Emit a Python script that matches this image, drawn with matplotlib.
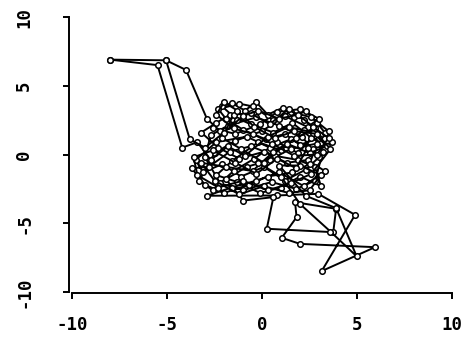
import matplotlib
matplotlib.use("Agg")
import matplotlib.pyplot as plt

# trajectory data (three chains drawn the same way)
chain_a_x = [-8.0, -5.05, -4.0, -2.9, -2.2, -1.3, -2.1, -1.6, -0.9, -0.3, 0.3, 1.1, 1.7, 2.3, 2.9,
             3.3, 3.7, 2.7, 1.5, 0.4, -0.8, -2.4, -3.5, -3.1, -2.1, -1.1, 0.1, 1.2, 2.3, 3.0,
             2.1, 0.9, -0.3, -1.8, -2.7, -3.0, -2.2, -1.0, 0.5, 1.8, 2.8, 3.2, 2.4, 1.2, 0.0,
             -1.4, -2.5, -3.3, -2.6, -1.5, -0.4, 0.8, 1.9, 2.6, 1.6, 0.6, -0.6, -1.7, -2.4, -3.2,
             -2.3, -1.2, 0.1, 1.3, 2.4, 3.3, 2.2, 0.9, -0.3, -1.6, -2.9, 0.77, 2.96, 4.9, 3.14,
             5.95, 2.0, 1.04, 1.82, 1.74, 3.9, 3.75, 0.25, 0.6, -0.98, -1.9, -0.8, 0.4, 1.5, 2.9,
             3.5, 2.6, 1.5, 0.6, -0.5, -1.2, -2.3, -1.9, -1.0, 0.2, 1.2, 2.0, 3.0, 2.5, 1.6,
             0.3, -0.7, -2.0, -3.0, -3.7, -2.8, -1.7, -0.6, 0.7, 1.9, 2.8, 3.1, 2.0, 1.0, -0.1,
             -1.3, -2.4, -1.6, -0.2, 1.0, 2.2, 3.0, 2.0, 0.8, -0.1, -1.4, -2.6]
chain_a_y = [6.9, 6.85, 6.15, 2.6, 1.7, 2.5, 3.5, 3.75, 3.2, 3.8, 2.9, 3.4, 2.7, 3.2, 2.3,
             1.6, 0.9, 0.4, 1.1, 0.5, 1.3, 0.9, -0.4, -1.3, -0.7, -1.6, -0.9, -1.9, -1.1, -0.2,
             1.3, 2.1, 2.7, 2.1, 1.4, -0.2, -2.1, -2.6, -2.0, -2.5, -1.9, 0.2, 2.0, 2.8, 1.7,
             1.0, 0.1, -1.9, -2.6, -1.2, -0.3, 0.9, 0.1, 1.2, 2.3, 1.6, 2.2, 2.9, 2.3, 1.6,
             0.5, -0.3, 0.2, -0.6, -0.4, -1.2, -2.3, -1.3, -1.9, -2.4, -3.0, -2.98, -2.86, -4.39, -8.48,
             -6.74, -6.5, -6.06, -4.56, -3.47, -3.95, -5.65, -5.4, -3.1, -3.35, -1.8, -0.9, -0.4, 0.4, 0.8,
             1.7, 2.7, 3.1, 2.5, 3.5, 3.7, 3.3, 2.6, 1.8, 1.1, 1.5, 0.7, 1.2, -0.7, -1.3,
             -1.6, -2.2, -2.8, -2.2, -1.0, -0.9, 0.2, 0.6, -0.1, -0.4, -0.9, -2.3, -1.6, -2.4, -2.8,
             -2.0, -1.5, -0.5, 0.9, 0.3, 1.8, 2.6, 3.3, 3.1, 2.2, 1.5, 1.9]

chain_b_x = [-8.0, -5.5, -4.2, -3.4, -2.7, -1.8, -0.9, 0.3, 1.4, 2.7, 3.4, 2.5, 1.3, 0.1, -1.1,
             -2.1, -1.5, -0.6, 0.4, 1.4, 2.2, 2.8, 1.8, 0.6, -0.5, -1.9, -3.2, -2.5, -1.2, 0.1,
             1.4, 2.5, 3.1, 2.0, 0.9, 2.3, 3.9, 4.98, 3.6, 2.0, 1.0, -0.2]
chain_b_y = [6.9, 6.5, 0.5, 0.9, -0.4, 0.6, -0.1, 1.3, 2.0, 1.6, 0.6, 0.1, 0.8, -0.6, 0.4,
             1.2, 2.9, 3.0, 2.2, 3.3, 2.5, 1.9, 1.2, 0.2, -1.2, -0.9, -0.6, -1.9, -2.9, -2.3,
             -2.8, -2.6, -1.5, -0.8, -0.8, -3.0, -3.9, -7.4, -5.6, -3.6, -1.6, -0.6]

chain_c_x = [-5.05, -3.8, -3.0, -2.0, -1.0, -0.2, 0.9, 1.9, 2.7, 3.5, 2.9, 1.7, 0.5, -0.5, -1.5,
             -2.4, -2.0, -1.3, -0.4, 0.7, 1.7, 2.9, 3.6, 2.6, 1.5, 0.3, -1.0, -2.3, -3.4, -3.6,
             -2.6, -1.4, -0.3, 0.8, 1.8, 2.4]
chain_c_y = [6.85, 1.1, 0.5, 1.6, 2.8, 3.2, 2.6, 2.9, 2.0, 1.2, 0.0, -0.1, 0.8, 1.5, 1.9,
             2.9, 3.8, 3.2, 2.0, 1.2, 1.7, 1.5, 0.4, -1.4, -2.1, -2.6, -1.9, -2.4, -1.5, -0.2,
             0.3, -0.6, -1.4, -0.3, -1.0, 0.5]

ticks = [-10, -5, 0, 5, 10]
tick_labels = ["-10", "-5", "0", "5", "10"]

plt.rcParams['font.family'] = ['DejaVu Sans Mono']
plt.rcParams['font.weight'] = 'bold'

fig = plt.figure(figsize=(4.65, 3.38), dpi=100)
ax = fig.add_axes([72 / 465, 46 / 338, 380 / 465, 275 / 338])

for cx, cy in [(chain_a_x, chain_a_y), (chain_b_x, chain_b_y), (chain_c_x, chain_c_y)]:
    ax.plot(cx, cy, color='black', lw=1.4, marker='o', ms=4,
            mfc='white', mec='black', mew=1.1)

ax.set_xlim(-10, 10)
ax.set_ylim(-10, 10)
ax.spines['top'].set_visible(False)
ax.spines['right'].set_visible(False)
ax.spines['left'].set_position(('outward', 2))
ax.spines['bottom'].set_position(('outward', 1))
ax.spines['left'].set_linewidth(1.4)
ax.spines['bottom'].set_linewidth(1.4)

ax.set_xticks(ticks)
ax.set_xticklabels(tick_labels)
ax.set_yticks(ticks)
ax.set_yticklabels(tick_labels, rotation=90, va='center')
ax.tick_params(axis='x', length=4, width=1.4, pad=12, labelsize=12.5)
ax.tick_params(axis='y', length=4, width=1.4, pad=22, labelsize=12.5)

fig.savefig('out.png', dpi=100)
